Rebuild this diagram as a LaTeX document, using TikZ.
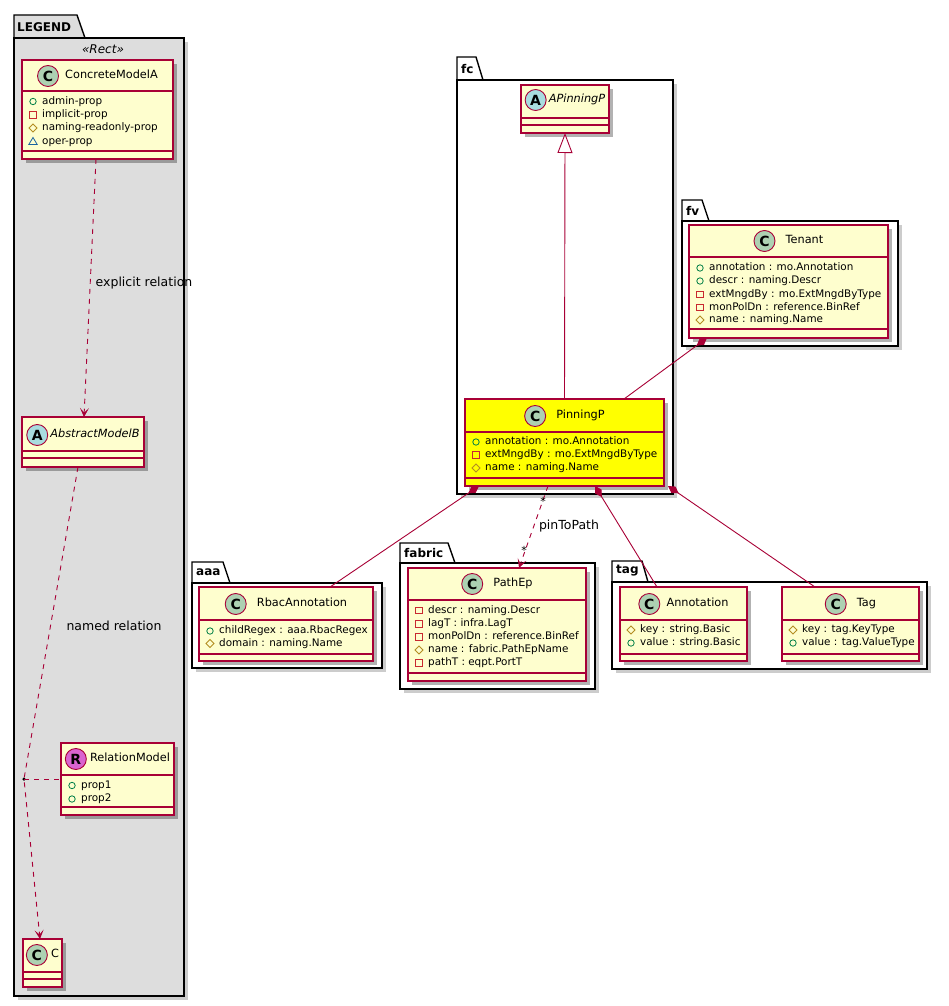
\documentclass[tikz,border=0pt]{standalone}
\usepackage{fontspec}
\setmainfont{DejaVu Sans}
\usetikzlibrary{arrows.meta,shadows,calc}
\definecolor{bordc}{HTML}{A80036}
\definecolor{boxf}{HTML}{FEFECE}
\definecolor{legf}{HTML}{DDDDDD}
\definecolor{cspot}{HTML}{ADD1B2}
\definecolor{aspot}{HTML}{A9DCDF}
\definecolor{rspot}{HTML}{D964CF}
\definecolor{pubc}{HTML}{038048}
\definecolor{privc}{HTML}{C82930}
\definecolor{protc}{HTML}{B38D22}
\definecolor{pkgc}{HTML}{1963A0}
\definecolor{ppfill}{HTML}{FFFF00}

\newcommand\vpub[2]{\draw[pubc, line width=0.8pt] ({#1},{#2}) circle[radius=3.2pt];}
\newcommand\vpriv[2]{\draw[privc, line width=0.8pt] ({#1-3.2},{#2-3.2}) rectangle ({#1+3.2},{#2+3.2});}
\newcommand\vprot[2]{\draw[protc, line width=0.8pt] ({#1-4},{#2}) -- ({#1},{#2-4}) -- ({#1+4},{#2}) -- ({#1},{#2+4}) -- cycle;}
\newcommand\vpkg[2]{\draw[pkgc, line width=0.8pt] ({#1-4.2},{#2+3}) -- ({#1+4.2},{#2+3}) -- ({#1},{#2-4}) -- cycle;}
\newcommand\classbox[6]{\node[umlbox, fill=#6, minimum width={(#4-#2)*1pt}, minimum height={(#5-#3)*1pt}] (#1) at ({(#2+#4)/2},{(#3+#5)/2}) {};}
\newcommand\classhead[7]{%
  \node[cname] (#1-n) at ({#2+11+#7/2},{#3}) {#6};
  \node[spot, fill=#5] (#1-i) at ([xshift={-(#7+11)*1pt}]#1-n.west) {#4};}
\newcommand\attrrow[5]{#4{#2+11}{#3}\node[attrtext] (#1) at ({#2+20},{#3}) {#5};}

\begin{document}
\begin{tikzpicture}[x=1pt,y=-1pt,
  pkgbody/.style={draw=black, line width=1.4pt, fill=white},
  pkgshadow/.style={fill=black, opacity=0.2},
  pkglabel/.style={font=\bfseries\fontsize{12}{14}\selectfont, anchor=west, inner sep=0},
  umlbox/.style={draw=bordc, line width=1.3pt, inner sep=0, outer sep=0,
    drop shadow={shadow xshift=4pt, shadow yshift=-4pt, opacity=0.3, fill=black}},
  div/.style={draw=bordc, line width=1.1pt},
  cname/.style={font=\fontsize{11.3}{13}\selectfont, inner sep=0, text height=8pt, text depth=2.5pt},
  spot/.style={circle, draw=bordc, line width=0.9pt, inner sep=0, minimum size=21pt, font=\bfseries\fontsize{14}{14}\selectfont},
  attrtext/.style={font=\fontsize{10.4}{12}\selectfont, anchor=west, inner sep=0, text height=7.5pt, text depth=2pt},
  rel/.style={draw=bordc, line width=0.9pt},
  dep/.style={rel, dash pattern=on 5pt off 5pt, -{Stealth[length=9pt,width=9pt,inset=4.5pt]}},
  comp/.style={rel, {Diamond[length=13pt,width=7.5pt]}-},
  inh/.style={rel, -{Triangle[open,length=20pt,width=15pt,fill=white]}},
  rlbl/.style={font=\fontsize{12.5}{14}\selectfont, inner sep=0},
  mult/.style={font=\fontsize{11}{12}\selectfont, inner sep=0}
]
\useasboundingbox (0,0) rectangle (948,1006);
\fill[white] (0,0) rectangle (948,1006);

% ---------- packages ----------
% LEGEND
\fill[pkgshadow] (18,42) rectangle (188,1000);
\draw[pkgbody, fill=legf] (14,38) -- (14,15) -- (77,15) -- (85,38) -- cycle;
\draw[pkgbody, fill=legf] (14,38) rectangle (184,996);
\node[pkglabel] (pkLegend) at (17,27) {LEGEND};
\node[font=\itshape\fontsize{12}{14}\selectfont, inner sep=0] (stRect) at (103,49) {«Rect»};
% fc
\fill[pkgshadow] (461,84) rectangle (677,498);
\draw[pkgbody] (457,80) -- (457,57) -- (476,57) -- (483,80) -- cycle;
\draw[pkgbody] (457,80) rectangle (673,494);
\node[pkglabel] (pkFc) at (461,69) {fc};
% fv
\fill[pkgshadow] (686,225) rectangle (902,350);
\draw[pkgbody] (682,221) -- (682,200) -- (702,200) -- (709,221) -- cycle;
\draw[pkgbody] (682,221) rectangle (898,346);
\node[pkglabel] (pkFv) at (686,211) {fv};
% aaa
\fill[pkgshadow] (196,587) rectangle (386,672);
\draw[pkgbody] (192,583) -- (192,562) -- (223,562) -- (230,583) -- cycle;
\draw[pkgbody] (192,583) rectangle (382,668);
\node[pkglabel] (pkAaa) at (196,572) {aaa};
% fabric
\fill[pkgshadow] (404,567) rectangle (599,693);
\draw[pkgbody] (400,563) -- (400,543) -- (448,543) -- (455,563) -- cycle;
\draw[pkgbody] (400,563) rectangle (595,689);
\node[pkglabel] (pkFabric) at (404,553) {fabric};
% tag
\fill[pkgshadow] (616,586) rectangle (931,673);
\draw[pkgbody] (612,582) -- (612,561) -- (642,561) -- (648,582) -- cycle;
\draw[pkgbody] (612,582) rectangle (927,669);
\node[pkglabel] (pkTag) at (616,571) {tag};

% ---------- legend classes ----------
\classbox{cma}{22}{60}{173}{159}{boxf}
\draw[div] (22,91) -- (173,91);
\draw[div] (22,151) -- (173,151);
\classhead{cma}{97.5}{76}{C}{cspot}{ConcreteModelA}{6}
\attrrow{cma-a1}{22}{101.5}{\vpub}{admin-prop}
\attrrow{cma-a2}{22}{115}{\vpriv}{implicit-prop}
\attrrow{cma-a3}{22}{128}{\vprot}{naming-readonly-prop}
\attrrow{cma-a4}{22}{141.5}{\vpkg}{oper-prop}

\classbox{amb}{22}{417}{144}{467}{boxf}
\draw[div] (22,451) -- (144,451);
\draw[div] (22,458) -- (144,458);
\classhead{amb}{83}{435}{A}{aspot}{\itshape AbstractModelB}{2}

\classbox{rm}{61}{743}{174}{815}{boxf}
\draw[div] (61,775) -- (174,775);
\draw[div] (61,807) -- (174,807);
\classhead{rm}{117.5}{759}{R}{rspot}{RelationModel}{3}
\attrrow{rm-a1}{61}{785.5}{\vpub}{prop1}
\attrrow{rm-a2}{61}{799}{\vpub}{prop2}

\classbox{cc}{23}{939}{62}{987}{boxf}
\draw[div] (23,972) -- (62,972);
\draw[div] (23,979) -- (62,979);
\classhead{cc}{42.5}{955}{C}{cspot}{C}{3}

% ---------- legend connectors ----------
\draw[dep] ($(cma.south)+(-1.5,0)$) -- ($(amb.north)+(1,0)$);
\node[rlbl] (lblExpl) at (144,283) {explicit relation};
\node[circle, fill=black, inner sep=0, minimum size=3.5pt] (dotc) at (24,779) {};
\draw[dep] ($(amb.south)+(-5,0)$) -- (dotc.center) -- ($(cc.north)+(-2.5,0)$);
\draw[rel, dash pattern=on 5pt off 5pt] (dotc.center) -- (rm.west);
\node[rlbl] (lblNamed) at (114,626) {named relation};

% ---------- fc ----------
\classbox{ap}{521}{85}{609}{133}{boxf}
\draw[div] (521,118) -- (609,118);
\draw[div] (521,125) -- (609,125);
\classhead{ap}{565}{100}{A}{aspot}{\itshape APinningP}{2}

\classbox{pp}{465}{399}{664}{486}{ppfill}
\draw[div] (465,432) -- (664,432);
\draw[div] (465,478) -- (664,478);
\classhead{pp}{564.5}{416}{C}{cspot}{PinningP}{10}
\attrrow{pp-a1}{465}{442}{\vpub}{annotation : mo.Annotation}
\attrrow{pp-a2}{465}{455}{\vpriv}{extMngdBy : mo.ExtMngdByType}
\attrrow{pp-a3}{465}{468}{\vprot}{name : naming.Name}

% ---------- fv ----------
\classbox{tn}{689}{225}{888}{338}{boxf}
\draw[div] (689,257) -- (888,257);
\draw[div] (689,329) -- (888,329);
\classhead{tn}{788.5}{241}{C}{cspot}{Tenant}{10}
\attrrow{tn-a1}{689}{268}{\vpub}{annotation : mo.Annotation}
\attrrow{tn-a2}{689}{281}{\vpub}{descr : naming.Descr}
\attrrow{tn-a3}{689}{294.5}{\vpriv}{extMngdBy : mo.ExtMngdByType}
\attrrow{tn-a4}{689}{307.5}{\vpriv}{monPolDn : reference.BinRef}
\attrrow{tn-a5}{689}{320}{\vprot}{name : naming.Name}

% ---------- aaa ----------
\classbox{rb}{199}{587}{373}{661}{boxf}
\draw[div] (199,620) -- (373,620);
\draw[div] (199,654) -- (373,654);
\classhead{rb}{286}{604}{C}{cspot}{RbacAnnotation}{10}
\attrrow{rb-a1}{199}{631}{\vpub}{childRegex : aaa.RbacRegex}
\attrrow{rb-a2}{199}{643.5}{\vprot}{domain : naming.Name}

% ---------- fabric ----------
\classbox{pe}{408}{568}{586}{681}{boxf}
\draw[div] (408,600) -- (586,600);
\draw[div] (408,673) -- (586,673);
\classhead{pe}{497}{584}{C}{cspot}{PathEp}{10}
\attrrow{pe-a1}{408}{610.5}{\vpriv}{descr : naming.Descr}
\attrrow{pe-a2}{408}{624}{\vpriv}{lagT : infra.LagT}
\attrrow{pe-a3}{408}{637}{\vpriv}{monPolDn : reference.BinRef}
\attrrow{pe-a4}{408}{650}{\vprot}{name : fabric.PathEpName}
\attrrow{pe-a5}{408}{663}{\vpriv}{pathT : eqpt.PortT}

% ---------- tag ----------
\classbox{an}{620}{587}{747}{661}{boxf}
\draw[div] (620,620) -- (747,620);
\draw[div] (620,654) -- (747,654);
\classhead{an}{683.5}{604}{C}{cspot}{Annotation}{6}
\attrrow{an-a1}{620}{630}{\vprot}{key : string.Basic}
\attrrow{an-a2}{620}{643}{\vpub}{value : string.Basic}

\classbox{tg}{782}{587}{919}{661}{boxf}
\draw[div] (782,620) -- (919,620);
\draw[div] (782,654) -- (919,654);
\classhead{tg}{850.5}{604}{C}{cspot}{Tag}{10}
\attrrow{tg-a1}{782}{630}{\vprot}{key : tag.KeyType}
\attrrow{tg-a2}{782}{643}{\vpub}{value : tag.ValueType}

% ---------- fc connectors ----------
\draw[inh] (pp.north) -- (ap.south);
\draw[comp] ($(tn.south west)+(18,0)$) -- ($(pp.north)+(59.5,0)$);
\draw[comp] ($(pp.south west)+(14,0)$) -- ($(rb.north)+(44,0)$);
\draw[dep] ($(pp.south)+(-16.5,0)$) -- ($(pe.north)+(22,0)$);
\node[mult] (mulA) at (543,501) {*};
\node[mult] (mulB) at (524,550) {*};
\node[rlbl] (lblPin) at (569,526) {pinToPath};
\draw[comp] ($(pp.south)+(30.5,0)$) -- ($(an.north)+(-26.5,0)$);
\draw[comp] ($(pp.south east)+(4,0)$) -- ($(tg.north)+(-35.5,0)$);
\end{tikzpicture}
\end{document}
